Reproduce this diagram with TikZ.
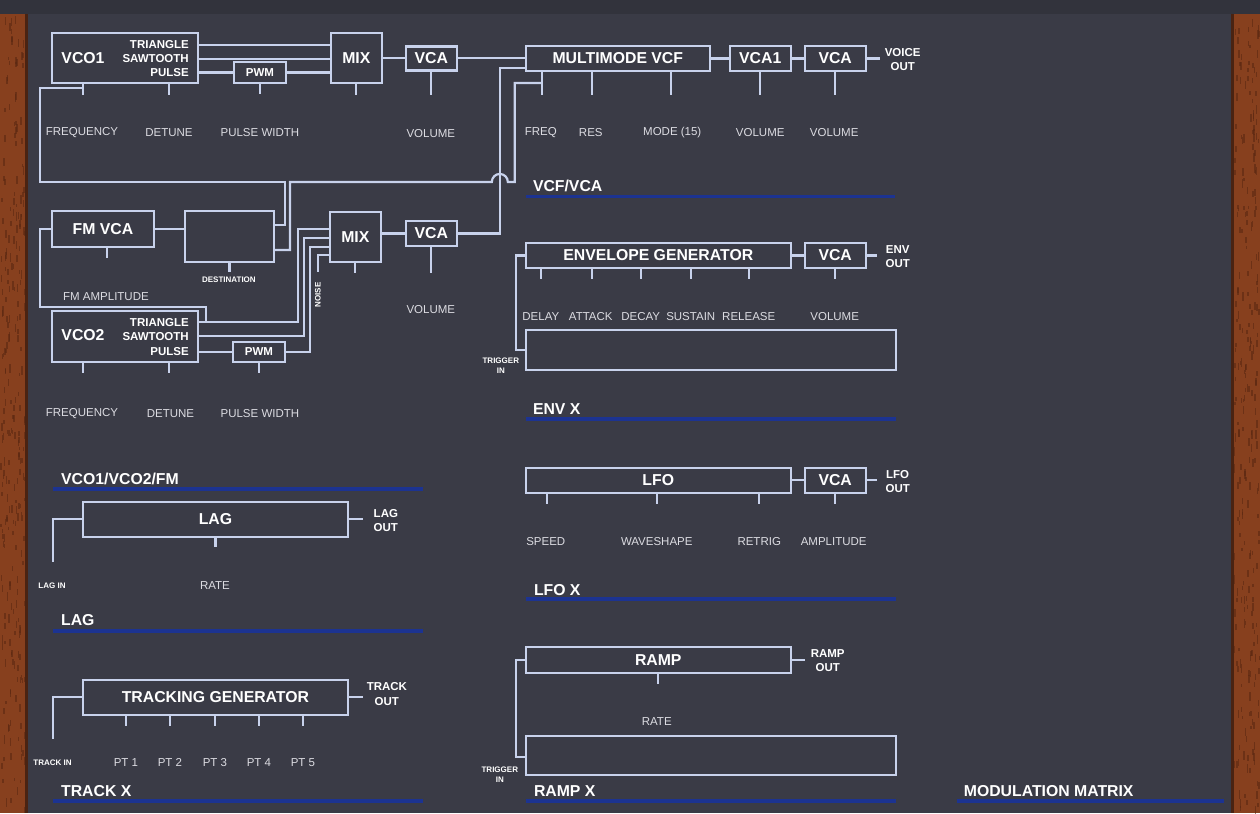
\documentclass[tikz,border=0pt]{standalone}
\usepackage{fontspec}
\setmainfont{Liberation Sans}
\usetikzlibrary{calc}

\definecolor{panelbg}{HTML}{3A3B46}
\definecolor{topbar}{HTML}{32333C}
\definecolor{wood}{HTML}{87401E}
\definecolor{woodspeck}{HTML}{5A2812}
\definecolor{woodedge}{HTML}{4A2312}
\definecolor{wirecol}{HTML}{C8D2EC}
\definecolor{knobtxt}{HTML}{DCDCE2}
\definecolor{rulecol}{HTML}{1C3391}

\tikzset{
  wire/.style={draw=wirecol, line width=2.2pt},
  blk/.style={draw=wirecol, line width=2.2pt, inner sep=0pt, text=white,
    font=\fontsize{15.8}{17}\selectfont\bfseries},
  blklbl/.style={text=white, inner sep=0pt, font=\fontsize{15.8}{17}\selectfont\bfseries},
  jack/.style={text=white, inner sep=0pt, align=center,
    font=\fontsize{11.5}{14.5}\selectfont\bfseries},
  knoblbl/.style={text=knobtxt, inner sep=0pt, font=\fontsize{11.5}{14}\selectfont},
  smalljack/.style={text=white, inner sep=0pt, align=center,
    font=\fontsize{8}{10}\selectfont\bfseries},
  sect/.style={text=white, inner sep=0pt, anchor=west,
    font=\fontsize{15.8}{17}\selectfont\bfseries},
  uline/.style={draw=rulecol, line width=3.6pt},
}

\begin{document}
\begin{tikzpicture}[x=1pt,y=-1pt]
  % panel and wood
  \fill[topbar] (0,0) rectangle (1260,813);
  \fill[wood] (0,14) rectangle (28,813);
  \fill[wood] (1231,14) rectangle (1260,813);
  \pgfmathsetseed{7}
  \foreach \i in {1,...,260} {
    \pgfmathsetmacro{\wy}{14+rnd*795}
    \pgfmathsetmacro{\wx}{rnd*25}
    \fill[woodspeck, opacity=0.6] (\wx,\wy) rectangle ++(1.5,3+rnd*6);
    \pgfmathsetmacro{\wy}{14+rnd*795}
    \pgfmathsetmacro{\wx}{1234+rnd*25}
    \fill[woodspeck, opacity=0.6] (\wx,\wy) rectangle ++(1.5,3+rnd*6);
  }
  \fill[woodedge] (25,14) rectangle (28,813);
  \fill[woodedge] (1231,14) rectangle (1234,813);
  \fill[panelbg] (28,14) rectangle (1231,813);
  \useasboundingbox (0,0) rectangle (1260,813);

  % VCO1 row
  \node[blk, minimum width=146pt, minimum height=50pt] (vco1) at (125,58) {};
  \node[blklbl] at (83,58) {VCO1};
  \node[jack, anchor=east] (tri1) at (189,45) {TRIANGLE};
  \node[jack, anchor=east] (saw1) at (189,59) {SAWTOOTH};
  \node[jack, anchor=east] (pul1) at (189,73) {PULSE};
  \node[blk, minimum width=52pt, minimum height=21pt, font=\fontsize{11.5}{14}\selectfont\bfseries] (pwm1) at (260,72.5) {PWM};
  \node[blk, minimum width=51pt, minimum height=50pt] (mix1) at (356.5,58) {MIX};
  \node[blk, minimum width=51pt, minimum height=24pt] (vca1) at (431.5,58.5) {VCA};
  \node[blk, minimum width=184pt, minimum height=25pt] (vcf) at (618,58.5) {MULTIMODE VCF};
  \node[blk, minimum width=61pt, minimum height=25pt] (vcaA) at (760.5,58.5) {VCA1};
  \node[blk, minimum width=61pt, minimum height=25pt] (vcaB) at (835.5,58.5) {VCA};
  \coordinate (vout) at (880,58.5);
  \node[jack] at (903,59.5) {VOICE\\OUT};

  \draw[wire] (vco1.east |- tri1) -- (mix1.west |- tri1);
  \draw[wire] (vco1.east |- saw1) -- (mix1.west |- saw1);
  \draw[wire] (vco1.east |- pwm1) -- (pwm1.west);
  \draw[wire] (pwm1.east) -- (mix1.west |- pwm1);
  \draw[wire] (mix1.east) -- (mix1.east -| vca1.west);
  \draw[wire] (vca1.east |- mix1.east) -- (vca1.east |- mix1.east -| vcf.west);
  \draw[wire] (vcf.east) -- (vcaA.west);
  \draw[wire] (vcaA.east) -- (vcaB.west);
  \draw[wire] (vcaB.east) -- (vout);

  \foreach \x in {83,169} \draw[wire] (vco1.south -| \x,0) -- ++(0,11);
  \draw[wire] (pwm1.south) -- ++(0,10);
  \draw[wire] (mix1.south) -- ++(0,11);
  \draw[wire] (vca1.south) -- ++(0,23);
  \foreach \x in {542,592,671} \draw[wire] (vcf.south -| \x,0) -- ++(0,23);
  \draw[wire] (vcaA.south) -- ++(0,23);
  \draw[wire] (vcaB.south) -- ++(0,23);

  \node[knoblbl] at (82,133) {FREQUENCY};
  \node[knoblbl] at (169,133) {DETUNE};
  \node[knoblbl] at (260,133) {PULSE WIDTH};
  \node[knoblbl] at (431,134) {VOLUME};
  \node[knoblbl] at (541,133) {FREQ};
  \node[knoblbl] at (591,133) {RES};
  \node[knoblbl] at (672.5,133) {MODE (15)};
  \node[knoblbl] at (760.5,133) {VOLUME};
  \node[knoblbl] at (834.5,133) {VOLUME};

  % FM / VCO2 block
  \node[blk, minimum width=102pt, minimum height=36pt] (fmvca) at (103,229) {FM VCA};
  \node[blk, minimum width=89pt, minimum height=51pt] (dest) at (229.5,236.5) {};
  \node[smalljack] at (229,280) {DESTINATION};
  \node[knoblbl] at (106,297) {FM AMPLITUDE};
  \node[blk, minimum width=146pt, minimum height=51pt] (vco2) at (125,336.5) {};
  \node[blklbl] at (83,335) {VCO2};
  \node[jack, anchor=east] (tri2) at (189,323) {TRIANGLE};
  \node[jack, anchor=east] (saw2) at (189,337) {SAWTOOTH};
  \node[jack, anchor=east] (pul2) at (189,352) {PULSE};
  \node[blk, minimum width=52pt, minimum height=20pt, font=\fontsize{11.5}{14}\selectfont\bfseries] (pwm2) at (259,352) {PWM};
  \node[blk, minimum width=51pt, minimum height=50pt] (mix2) at (355.5,237) {MIX};
  \node[blk, minimum width=51pt, minimum height=25pt] (vca2) at (431.5,233.5) {VCA};
  \node[smalljack, rotate=90] at (318,295) {NOISE};

  \coordinate (fq1) at (83,88);
  \coordinate (fq3) at (542,83);
  \coordinate (nz) at (318,272);
  \coordinate (j2) at (206,322);

  \draw[wire] (fq1) -- (40,88) -- (40,182) -- (285,182) -- (285,225) -- (dest.east |- 0,225);
  \draw[wire] (dest.east |- 0,250) -- (290,250) -- (290,182) -- (492,182)
    arc[start angle=180, end angle=0, radius=8pt] -- (515,182) -- (515,83) -- (fq3);
  \draw[wire] (vca2.east) -- (500,233.5) -- (500,68) -- (vcf.west |- 0,68);

  \draw[wire] (fmvca.east) -- (fmvca.east -| dest.west);
  \draw[wire] (fmvca.west) -- (40,229) -- (40,307) -- (206,307) -- (j2);
  \draw[wire] (vco2.east |- 0,322) -- (298,322) -- (298,229) -- (mix2.west |- 0,229);
  \draw[wire] (vco2.east |- 0,336) -- (304,336) -- (304,238) -- (mix2.west |- 0,238);
  \draw[wire] (vco2.east |- pwm2) -- (pwm2.west);
  \draw[wire] (pwm2.east) -- (310,352) -- (310,247) -- (mix2.west |- 0,247);
  \draw[wire] (nz) -- (318,255) -- (mix2.west |- 0,255);
  \draw[wire] (mix2.east |- vca2.west) -- (vca2.west);

  \draw[wire] (fmvca.south -| 107,0) -- ++(0,10);
  \draw[wire] (dest.south) -- ++(0,9);
  \foreach \x in {83,169} \draw[wire] (vco2.south -| \x,0) -- ++(0,10);
  \draw[wire] (pwm2.south) -- ++(0,10);
  \draw[wire] (mix2.south) -- ++(0,10);
  \draw[wire] (vca2.south) -- ++(0,26);

  \node[knoblbl] at (431,310) {VOLUME};
  \node[knoblbl] at (82,414) {FREQUENCY};
  \node[knoblbl] at (170.5,414) {DETUNE};
  \node[knoblbl] at (260,414) {PULSE WIDTH};

  \node[sect] at (61,479) {VCO1/VCO2/FM};
  \draw[uline] (53,489) -- (423,489);
  \node[sect] at (533,186) {VCF/VCA};
  \draw[uline] (526,196.5) -- (895,196.5);

  % envelope
  \node[blk, minimum width=265pt, minimum height=25pt] (env) at (658.5,255.5) {ENVELOPE GENERATOR};
  \node[blk, minimum width=61pt, minimum height=25pt] (envvca) at (835.5,255.5) {VCA};
  \node[blk, minimum width=370pt, minimum height=40pt] (envbig) at (711,350) {};
  \coordinate (envo) at (877,255.5);
  \node[jack] at (898,256.5) {ENV\\OUT};
  \node[smalljack] at (501,366) {TRIGGER\\IN};
  \draw[wire] (env.east) -- (envvca.west);
  \draw[wire] (envvca.east) -- (envo);
  \draw[wire] (env.west) -- (516,255.5) -- (516,350) -- (envbig.west);
  \foreach \x in {541,592,641,691,749} \draw[wire] (env.south -| \x,0) -- ++(0,10);
  \draw[wire] (envvca.south) -- ++(0,10);
  \node[knoblbl] at (541,317) {DELAY};
  \node[knoblbl] at (591,317) {ATTACK};
  \node[knoblbl] at (641,317) {DECAY};
  \node[knoblbl] at (691,317) {SUSTAIN};
  \node[knoblbl] at (749,317) {RELEASE};
  \node[knoblbl] at (835,317) {VOLUME};
  \node[sect] at (533,409) {ENV X};
  \draw[uline] (526,419) -- (896,419);

  % lfo
  \node[blk, minimum width=265pt, minimum height=25pt] (lfo) at (658.5,480.5) {LFO};
  \node[blk, minimum width=61pt, minimum height=25pt] (lfovca) at (835.5,480.5) {VCA};
  \coordinate (lfoo) at (877,480.5);
  \node[jack] at (898,481.5) {LFO\\OUT};
  \draw[wire] (lfo.east) -- (lfovca.west);
  \draw[wire] (lfovca.east) -- (lfoo);
  \foreach \x in {547,657,759} \draw[wire] (lfo.south -| \x,0) -- ++(0,10);
  \draw[wire] (lfovca.south) -- ++(0,10);
  \node[knoblbl] at (546,542) {SPEED};
  \node[knoblbl] at (657,542) {WAVESHAPE};
  \node[knoblbl] at (759.5,542) {RETRIG};
  \node[knoblbl] at (834,542) {AMPLITUDE};
  \node[sect] at (534,590) {LFO X};
  \draw[uline] (526,599) -- (896,599);

  % ramp
  \node[blk, minimum width=265pt, minimum height=26pt] (ramp) at (658.5,660) {RAMP};
  \node[blk, minimum width=370pt, minimum height=39pt] (rampbig) at (711,755.5) {};
  \coordinate (rampo) at (805,660);
  \node[jack] at (828,661) {RAMP\\OUT};
  \node[smalljack] at (500,774.5) {TRIGGER\\IN};
  \draw[wire] (ramp.east) -- (rampo);
  \draw[wire] (ramp.west) -- (516,660) -- (516,757) -- (rampbig.west |- 0,757);
  \draw[wire] (ramp.south) -- ++(0,10);
  \node[knoblbl] at (657,722) {RATE};
  \node[sect] at (534,791) {RAMP X};
  \draw[uline] (526,801) -- (896,801);

  % lag
  \node[blk, minimum width=265pt, minimum height=35pt] (lag) at (215.5,519.5) {LAG};
  \coordinate (lagin) at (53,562);
  \coordinate (lago) at (363,519.5);
  \node[jack] at (386,520.5) {LAG\\OUT};
  \draw[wire] (lagin) |- (lag.west);
  \draw[wire] (lag.east) -- (lago);
  \draw[wire] (lag.south) -- ++(0,9);
  \node[smalljack] at (52,586) {LAG IN};
  \node[knoblbl] at (215,586) {RATE};
  \node[sect] at (61,620) {LAG};
  \draw[uline] (53,631) -- (423,631);

  % tracking generator
  \node[blk, minimum width=265pt, minimum height=35pt] (trk) at (215.5,697.5) {TRACKING GENERATOR};
  \coordinate (trkin) at (53,739);
  \coordinate (trko) at (363,697.5);
  \node[jack] at (387,694.5) {TRACK\\OUT};
  \draw[wire] (trkin) |- (trk.west);
  \draw[wire] (trk.east) -- (trko);
  \foreach \x/\t in {126/1,170/2,215/3,259/4,303/5} {
    \draw[wire] (trk.south -| \x,0) -- ++(0,10);
    \node[knoblbl] at (\x,763) {PT \t};
  }
  \node[smalljack] at (52.5,763) {TRACK IN};
  \node[sect] at (61,791) {TRACK X};
  \draw[uline] (53,801) -- (423,801);

  % modulation matrix
  \node[sect] at (964,791) {MODULATION MATRIX};
  \draw[uline] (957,801) -- (1224,801);
\end{tikzpicture}
\end{document}
